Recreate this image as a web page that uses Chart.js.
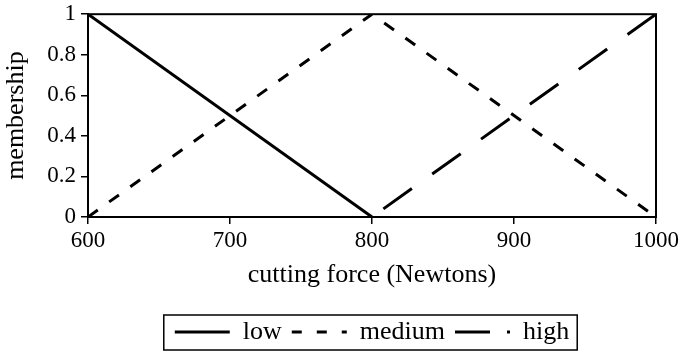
<!DOCTYPE html>
<html>
<head>
<meta charset="utf-8">
<script src="https://cdn.jsdelivr.net/npm/chart.js@4"></script>
<style>
    html, body { margin: 0; padding: 0; background: #fff; }
    #wrap { width: 685px; height: 355px; }
</style>
</head>
<body>
<div id="wrap"><canvas id="grafica" width="685" height="355"></canvas></div>
<script>
// valores
const fuerzas = [600, 800, 1000];
const bajo = [1, 0, null];
const medio = [0, 1, 0];
const alto = [null, 0, 1];
const ticksX = [600, 700, 800, 900, 1000];
const ticksY = [0, 0.2, 0.4, 0.6, 0.8, 1];

const fuente = "'Liberation Serif', 'Times New Roman', serif";

// trazos de la leyenda (muestras de 55px)
const trazosLeyenda = [[], [10, 15], [35, 17]];

function puntos(valores) {
    return fuerzas.map((f, i) => ({ x: f, y: valores[i] }));
}

// marco del area y recuadro de la leyenda
const marcos = {
    id: "marcos",
    afterDraw(chart) {
        const ctx = chart.ctx;
        const a = chart.chartArea;
        ctx.save();
        ctx.strokeStyle = "#000";
        ctx.lineWidth = 2;
        ctx.setLineDash([]);
        ctx.strokeRect(a.left, a.top, a.right - a.left, a.bottom - a.top);

        const cajas = chart.legend.legendHitBoxes;
        if (cajas && cajas.length) {
            const izq = cajas[0].left - 11;
            const ult = cajas[cajas.length - 1];
            const der = ult.left + ult.width + 8;
            const arriba = cajas[0].top - 4;
            const abajo = cajas[0].top + cajas[0].height + 5;
            ctx.lineWidth = 1.5;
            ctx.strokeRect(izq, arriba, der - izq, abajo - arriba);
        }
        ctx.restore();
    },
};

new Chart(document.getElementById("grafica").getContext("2d"), {
    type: "line",
    data: {
        datasets: [
            {
                label: "low",
                data: puntos(bajo),
                borderColor: "#000",
                borderWidth: 3,
                pointRadius: 0,
            },
            {
                label: "medium",
                data: puntos(medio),
                borderColor: "#000",
                borderWidth: 3,
                borderDash: [12, 14],
                pointRadius: 0,
            },
            {
                label: "high",
                data: puntos(alto),
                borderColor: "#000",
                borderWidth: 3,
                borderDash: [35, 25],
                borderDashOffset: -14,
                pointRadius: 0,
            },
        ],
    },
    options: {
        responsive: false,
        animation: false,
        layout: { padding: { top: 10, right: 29, left: 0, bottom: 0 } },
        plugins: {
            tooltip: { enabled: false },
            legend: {
                position: "bottom",
                fullSize: false,
                labels: {
                    color: "#000",
                    font: { family: fuente, size: 26 },
                    usePointStyle: true,
                    pointStyle: "line",
                    pointStyleWidth: 55,
                    boxWidth: 45,
                    boxHeight: 10,
                    padding: 10,
                    generateLabels: (chart) => {
                        const items = Chart.defaults.plugins.legend.labels.generateLabels(chart);
                        items.forEach((it, i) => {
                            it.lineDash = trazosLeyenda[i];
                            it.lineDashOffset = 0;
                        });
                        return items;
                    },
                },
            },
        },
        scales: {
            x: {
                type: "linear",
                min: 600,
                max: 1000,
                afterBuildTicks: (s) => {
                    s.ticks = ticksX.map((v) => ({ value: v }));
                },
                afterFit: (s) => {
                    s.height = 92;
                },
                grid: {
                    display: true,
                    drawOnChartArea: false,
                    drawTicks: true,
                    tickLength: 7,
                    color: "#000",
                    lineWidth: 1.5,
                },
                border: { display: true, color: "#000", width: 2 },
                ticks: {
                    color: "#000",
                    font: { family: fuente, size: 23 },
                    padding: 3,
                    maxRotation: 0,
                    callback: (v) => String(v),
                },
                title: {
                    display: true,
                    text: "cutting force (Newtons)",
                    color: "#000",
                    font: { family: fuente, size: 26 },
                    padding: { top: 4, bottom: 18 },
                },
            },
            y: {
                min: 0,
                max: 1,
                afterBuildTicks: (s) => {
                    s.ticks = ticksY.map((v) => ({ value: v }));
                },
                afterFit: (s) => {
                    s.width = 88;
                },
                grid: {
                    display: true,
                    drawOnChartArea: false,
                    drawTicks: true,
                    tickLength: 7,
                    color: "#000",
                    lineWidth: 1.5,
                },
                border: { display: true, color: "#000", width: 2 },
                ticks: {
                    color: "#000",
                    font: { family: fuente, size: 23, lineHeight: 0.8 },
                    padding: 5,
                    callback: (v) => String(v),
                },
                title: {
                    display: true,
                    text: "membership",
                    color: "#000",
                    font: { family: fuente, size: 26 },
                    padding: { top: 1, bottom: 2 },
                },
            },
        },
    },
    plugins: [marcos],
});
</script>
</body>
</html>
